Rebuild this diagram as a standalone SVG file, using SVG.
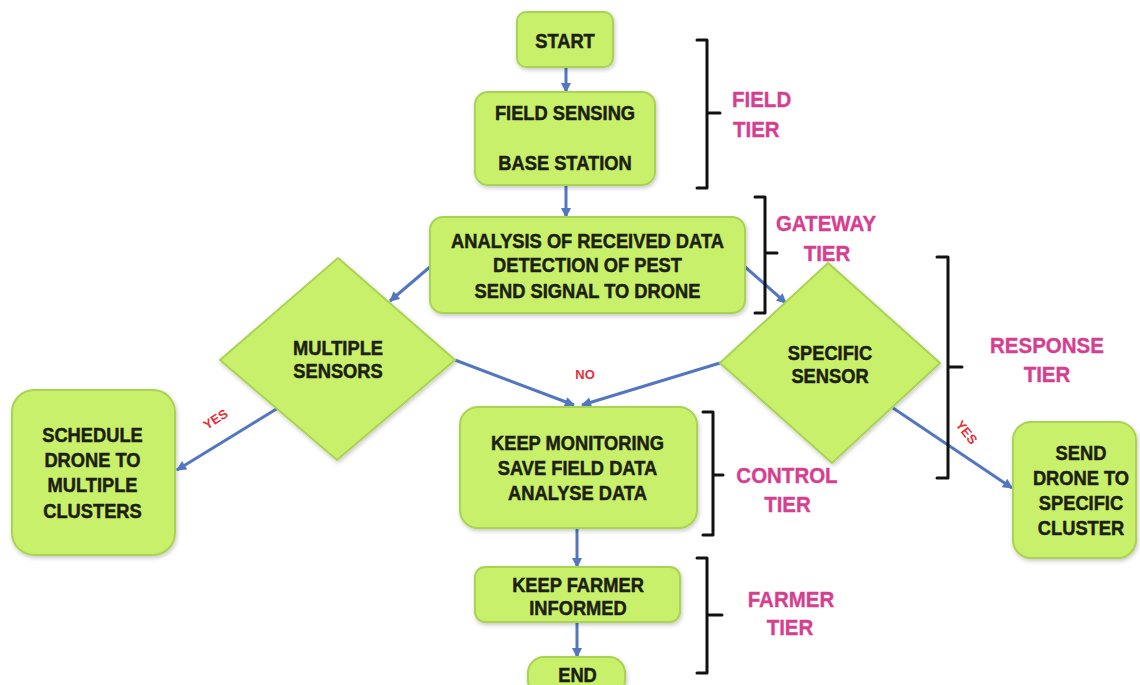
<svg xmlns="http://www.w3.org/2000/svg" width="1140" height="685" viewBox="0 0 1140 685">
<defs>
<style>
.box{fill:#c9f06b;stroke:#a9d352;stroke-width:2;filter:url(#sh)}
.t{font-family:"Liberation Sans",Arial,sans-serif;font-weight:bold;font-size:18.3px;fill:#1b2012;stroke:#1b2012;stroke-width:0.45;text-anchor:middle;transform-box:fill-box;transform-origin:center;transform:scaleY(1.12)}
.tier{font-family:"Liberation Sans",Arial,sans-serif;font-weight:bold;font-size:20.5px;fill:#d63e8f;stroke:#d63e8f;stroke-width:0.3;text-anchor:middle;transform-box:fill-box;transform-origin:center;transform:scaleY(1.12)}
.lbl{font-family:"Liberation Sans",Arial,sans-serif;font-weight:bold;font-size:13px;fill:#e8303a;text-anchor:middle}
.conn{stroke:#5277c0;stroke-width:3;fill:none;marker-end:url(#ah)}
.br{stroke:#111;stroke-width:3;fill:none;stroke-linejoin:round;stroke-linecap:round}
</style>
<marker id="ah" viewBox="0 0 10 10" markerUnits="userSpaceOnUse" markerWidth="11" markerHeight="10" refX="9" refY="5" orient="auto">
<path d="M0,0 L10,5 L0,10 z" fill="#5277c0"/>
</marker>
<filter id="sh" x="-10%" y="-10%" width="125%" height="130%">
<feDropShadow dx="1" dy="2" stdDeviation="2" flood-color="#000" flood-opacity="0.22"/>
</filter>
</defs>
<rect width="1140" height="685" fill="#fff"/>

<g id="connectors">
<line class="conn" x1="566" y1="67" x2="566" y2="92"/>
<line class="conn" x1="566" y1="185" x2="566" y2="217"/>
<line class="conn" x1="431" y1="266" x2="390" y2="301"/>
<line class="conn" x1="744" y1="266" x2="786" y2="303"/>
<line class="conn" x1="278" y1="408" x2="177" y2="470"/>
<line class="conn" x1="455" y1="360" x2="574" y2="405"/>
<line class="conn" x1="720" y1="363" x2="582" y2="405"/>
<line class="conn" x1="893" y1="408" x2="1012" y2="488"/>
<line class="conn" x1="577" y1="528" x2="577" y2="567"/>
<line class="conn" x1="577" y1="622" x2="577" y2="657"/>
<text class="lbl" x="585" y="379">NO</text>
<text class="lbl" transform="translate(218,423) rotate(-33)">YES</text>
<text class="lbl" transform="translate(963,435) rotate(52)">YES</text>
</g>

<g id="start">
<rect class="box" x="517" y="12" width="96" height="55" rx="9"/>
<text class="t" x="565" y="47">START</text>
</g>
<g id="field-sensing">
<rect class="box" x="475" y="92" width="180" height="93" rx="13"/>
<text class="t" x="565" y="119.5">FIELD SENSING</text>
<text class="t" x="565" y="169.5">BASE STATION</text>
</g>
<g id="analysis">
<rect class="box" x="430" y="217" width="315" height="96" rx="13"/>
<text class="t" x="587.5" y="247">ANALYSIS OF RECEIVED DATA</text>
<text class="t" x="587.5" y="271">DETECTION OF PEST</text>
<text class="t" x="587.5" y="297">SEND SIGNAL TO DRONE</text>
</g>
<g id="multiple-sensors">
<polygon class="box" points="338,258 455,360 337,460 220,360"/>
<text class="t" x="338" y="354">MULTIPLE</text>
<text class="t" x="338" y="377">SENSORS</text>
</g>
<g id="specific-sensor">
<polygon class="box" points="828,263 940,363 832,463 720,363"/>
<text class="t" x="830" y="359">SPECIFIC</text>
<text class="t" x="830" y="382">SENSOR</text>
</g>
<g id="schedule-drone">
<rect class="box" x="12" y="390" width="163" height="165" rx="22"/>
<text class="t" x="92.5" y="441.5">SCHEDULE</text>
<text class="t" x="92.5" y="466">DRONE TO</text>
<text class="t" x="92.5" y="491.5">MULTIPLE</text>
<text class="t" x="92.5" y="517.5">CLUSTERS</text>
</g>
<g id="send-drone">
<rect class="box" x="1013" y="422" width="123" height="136" rx="18"/>
<text class="t" x="1081" y="459">SEND</text>
<text class="t" x="1081" y="484">DRONE TO</text>
<text class="t" x="1081" y="509">SPECIFIC</text>
<text class="t" x="1081" y="534.5">CLUSTER</text>
</g>
<g id="keep-monitoring">
<rect class="box" x="460" y="407" width="237" height="121" rx="18"/>
<text class="t" x="577.5" y="449">KEEP MONITORING</text>
<text class="t" x="577.5" y="474">SAVE FIELD DATA</text>
<text class="t" x="577.5" y="499">ANALYSE DATA</text>
</g>
<g id="keep-farmer">
<rect class="box" x="475" y="567" width="205" height="55" rx="10"/>
<text class="t" x="578" y="591">KEEP FARMER</text>
<text class="t" x="578" y="614">INFORMED</text>
</g>
<g id="end">
<rect class="box" x="528" y="657" width="97" height="40" rx="16"/>
<text class="t" x="577.5" y="681">END</text>
</g>

<g id="tiers">
<path class="br" d="M697,40 H707 V188 H697 M707,113 H720"/>
<text class="tier" x="732" y="106" style="text-anchor:start">FIELD</text>
<text class="tier" x="733" y="136" style="text-anchor:start">TIER</text>
<path class="br" d="M755,197 H765 V313 H755 M765,253 H777"/>
<text class="tier" x="826" y="230">GATEWAY</text>
<text class="tier" x="827" y="260">TIER</text>
<path class="br" d="M937,257 H948 V478 H937 M948,367 H962"/>
<text class="tier" x="1047" y="352">RESPONSE</text>
<text class="tier" x="1047" y="381">TIER</text>
<path class="br" d="M703,412 H713 V535 H703 M713,475 H723"/>
<text class="tier" x="787" y="482">CONTROL</text>
<text class="tier" x="787.5" y="511">TIER</text>
<path class="br" d="M697,558 H707 V673 H697 M707,615 H722"/>
<text class="tier" x="791" y="606">FARMER</text>
<text class="tier" x="790" y="634">TIER</text>
</g>
</svg>
